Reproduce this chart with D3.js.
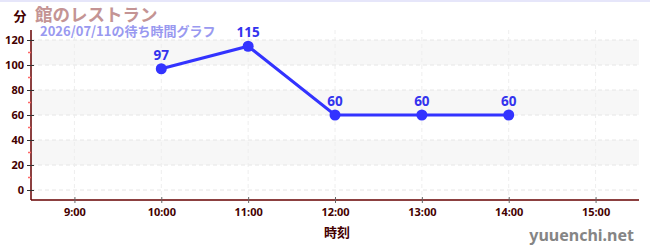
<!DOCTYPE html>
<html><head><meta charset="utf-8">
<script src="https://cdn.jsdelivr.net/npm/d3@7"></script>
<style>
body{margin:0;background:#fff;}
svg{display:block;font-family:"Noto Sans CJK JP","Noto Sans",sans-serif;}
</style></head>
<body><svg id="c" width="650" height="250"></svg>
<script>
const hours = [10, 11, 12, 13, 14];
const waits = [97, 115, 60, 60, 60];
const xTickValues = [9, 10, 11, 12, 13, 14, 15];
const xTickLabels = ["9:00","10:00","11:00","12:00","13:00","14:00","15:00"];
const yTickValues = [0, 20, 40, 60, 80, 100, 120];
const title = "館のレストラン";
const subtitle = "2026/07/11の待ち時間グラフ";

const svg = d3.select("#c");
const L = 31, R = 639, T = 30, B = 200;
const x = d3.scaleLinear().domain([8.5, 15.5]).range([L, R]);
const y = d3.scaleLinear().domain([-8, 128]).range([B, T]);

svg.append("rect").attr("x",0).attr("y",0).attr("width",650).attr("height",2).attr("fill","#e6e6fa");

// bands
const bands = [[100,120],[60,80],[20,40]];
svg.selectAll("rect.band").data(bands).enter().append("rect")
  .attr("x", L).attr("width", R-L)
  .attr("y", d=>y(d[1])).attr("height", d=>y(d[0])-y(d[1]))
  .attr("fill","#f7f7f7");

// grid
svg.selectAll("line.hg").data(yTickValues).enter().append("line")
  .attr("x1",L).attr("x2",R).attr("y1",d=>y(d)).attr("y2",d=>y(d))
  .attr("stroke","#e6e6e6").attr("stroke-dasharray","4,3");
svg.selectAll("line.vg").data(xTickValues).enter().append("line")
  .attr("x1",d=>x(d)).attr("x2",d=>x(d)).attr("y1",T).attr("y2",B)
  .attr("stroke","#eeeeee").attr("stroke-dasharray","4,3");

// y axis
const yAxis = svg.append("g").attr("transform",`translate(${L},0)`)
  .call(d3.axisLeft(y).tickValues(yTickValues).tickSize(4).tickPadding(3));
yAxis.select(".domain").attr("stroke","#660000").attr("stroke-width",1.5).attr("d",`M0,${T}V${B}`);
yAxis.selectAll(".tick line").attr("stroke","#333").attr("x2",3).attr("x1",-4);
yAxis.selectAll(".tick text").attr("fill","#440000").attr("font-size",11).attr("font-weight","bold")
  .attr("font-family","'Noto Sans',sans-serif");
// minor ticks
svg.selectAll("line.mt").data([10,30,50,70,90,110]).enter().append("line")
  .attr("x1",L-3).attr("x2",L).attr("y1",d=>y(d)).attr("y2",d=>y(d))
  .attr("stroke","#ff6666").attr("stroke-width",1.5);

// x axis
const xAxis = svg.append("g").attr("transform",`translate(0,${B})`)
  .call(d3.axisBottom(x).tickValues(xTickValues).tickFormat((d,i)=>xTickLabels[i]).tickSize(4).tickPadding(4));
xAxis.select(".domain").attr("stroke","#660000").attr("stroke-width",1.5).attr("d",`M${L},0H${R}`);
xAxis.selectAll(".tick line").attr("stroke","#666").attr("y1",-3).attr("y2",3);
xAxis.selectAll(".tick text").attr("fill","#440000").attr("font-size",11).attr("font-weight","bold")
  .attr("font-family","'Noto Sans',sans-serif");

// axis titles
svg.append("text").attr("x",337).attr("y",237).attr("text-anchor","middle")
  .attr("fill","#440000").attr("font-size",13).attr("font-weight","bold").text("時刻");
svg.append("text").attr("x",20).attr("y",21).attr("text-anchor","middle")
  .attr("fill","#440000").attr("font-size",13).attr("font-weight","bold").text("分");

// titles
svg.append("text").attr("x",35).attr("y",20.5).attr("fill","#c49494")
  .attr("font-size",17.5).attr("font-weight","bold").text(title);
svg.append("text").attr("x",40).attr("y",36).attr("fill","#9999f0")
  .attr("font-size",13).attr("font-weight","bold").text(subtitle);

// watermark
svg.append("text").attr("x",634).attr("y",241).attr("text-anchor","end")
  .attr("fill","#858585").attr("font-size",16).attr("font-weight","bold")
  .attr("font-family","'Noto Sans',sans-serif").text("yuuenchi.net");

// line
const pts = hours.map((h,i)=>({h, v: waits[i]}));
svg.append("path").datum(pts)
  .attr("d", d3.line().x(d=>x(d.h)).y(d=>y(d.v)))
  .attr("fill","none").attr("stroke","#3333ff").attr("stroke-width",3);
svg.selectAll("circle.p").data(pts).enter().append("circle")
  .attr("cx",d=>x(d.h)).attr("cy",d=>y(d.v)).attr("r",5.5).attr("fill","#3333ff");
svg.selectAll("text.lbl").data(pts).enter().append("text")
  .attr("x",d=>x(d.h)).attr("y",d=>y(d.v)-9).attr("text-anchor","middle")
  .attr("fill","#3333ee").attr("font-size",13.5).attr("font-weight","bold")
  .attr("font-family","'Noto Sans',sans-serif").text(d=>d.v);
</script></body></html>
